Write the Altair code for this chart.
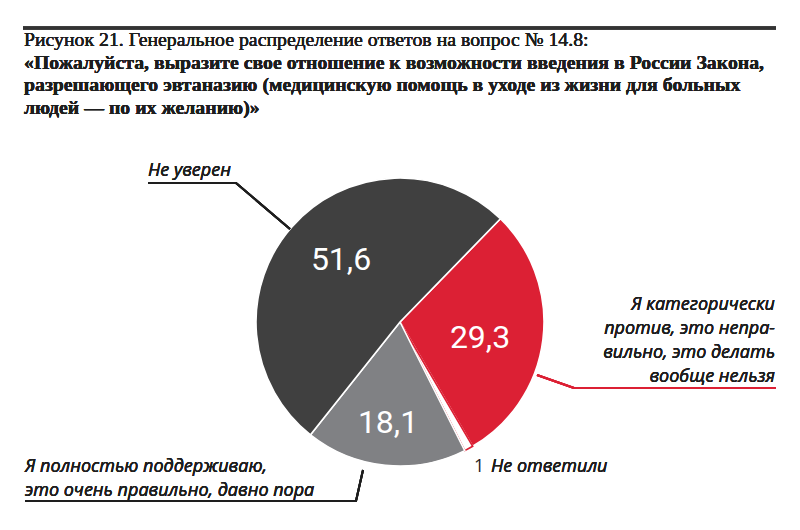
import math
import altair as alt
import pandas as pd

# ---- data ----
keys = ["against", "no_answer", "support", "unsure"]
values = [29.3, 1.0, 18.1, 51.6]
title_lines = [
    "Рисунок 21. Генеральное распределение ответов на вопрос № 14.8:",
    "«Пожалуйста, выразите свое отношение к возможности введения в России Закона,",
    "разрешающего эвтаназию (медицинскую помощь в уходе из жизни для больных",
    "людей — по их желанию)»",
]
label_unsure = "Не уверен"
label_against = ["Я категорически", "против, это непра-", "вильно, это делать", "вообще нельзя"]
label_support = ["Я полностью поддерживаю,", "это очень правильно, давно пора"]
label_noanswer = "Не ответили"

# ---- styles ----
fill_colors = ["#dc2034", "#ffffff", "#808184", "#404040"]
stroke_colors = ["#ffffff", "#dc2034", "#ffffff", "#ffffff"]
RED = "#dc2034"
INK = "#1e1e1e"

df = pd.DataFrame({"cat": keys, "value": values, "order": list(range(len(keys)))})


def X(px):
    return px - 8


def Y(py):
    return py - 8


CX, CY, R = 400, 322, 144
start = math.radians(44.2)

layers = []

# top rule
layers.append(
    alt.Chart(df).mark_rule(color="#333333", strokeWidth=3).encode(
        x=alt.value(X(23)), x2=alt.value(X(776)), y=alt.value(Y(28)), y2=alt.value(Y(28))
    )
)

# title lines
for i, line in enumerate(title_lines):
    layers.append(
        alt.Chart(df).mark_text(
            text=line, align="left", baseline="alphabetic",
            font="Liberation Serif", fontSize=19.8,
            fontWeight="normal" if i == 0 else "bold", color=INK,
        ).encode(x=alt.value(X(24)), y=alt.value(Y(46 + 22.5 * i)))
    )

# pie
layers.append(
    alt.Chart(df).mark_arc(outerRadius=R, strokeWidth=1.6).encode(
        theta=alt.Theta("value:Q", stack=True,
                        scale=alt.Scale(range=[start, start + 2 * math.pi])),
        order=alt.Order("order:Q"),
        color=alt.Color("cat:N", scale=alt.Scale(domain=keys, range=fill_colors), legend=None),
        stroke=alt.Stroke("cat:N", scale=alt.Scale(domain=keys, range=stroke_colors), legend=None),
        x=alt.value(X(CX)), y=alt.value(Y(CY)),
    )
)

# value labels inside
value_pos = {"unsure": (341, 260), "against": (480, 338), "support": (388, 423)}
for k, (px, py) in value_pos.items():
    layers.append(
        alt.Chart(df).transform_filter(alt.datum.cat == k).transform_calculate(
            lbl="replace(format(datum.value, '.1f'), '.', ',')"
        ).mark_text(
            align="center", baseline="middle", font="Liberation Sans Narrow, Roboto",
            fontSize=32, color="white",
        ).encode(text="lbl:N", x=alt.value(X(px)), y=alt.value(Y(py)))
    )

LBL = dict(font="Open Sans", fontSize=18, fontStyle="italic", color=INK)

# "1 Не ответили"
layers.append(
    alt.Chart(df).transform_filter(alt.datum.cat == "no_answer").transform_calculate(
        lbl="format(datum.value, 'd')"
    ).mark_text(
        align="left", baseline="middle", font="Open Sans", fontSize=18, color=INK,
    ).encode(text="lbl:N", x=alt.value(X(474)), y=alt.value(Y(467)))
)

layers.append(
    alt.Chart(df).mark_text(text=label_noanswer, align="left", baseline="middle", **LBL)
    .encode(x=alt.value(X(491)), y=alt.value(Y(467)))
)

# Не уверен
layers.append(
    alt.Chart(df).mark_text(text=label_unsure, align="left", baseline="middle", **LBL)
    .encode(x=alt.value(X(148)), y=alt.value(Y(171)))
)
layers.append(
    alt.Chart(df).mark_rule(color=INK, strokeWidth=2).encode(
        x=alt.value(X(148)), x2=alt.value(X(237)), y=alt.value(Y(183)), y2=alt.value(Y(183))
    )
)
layers.append(
    alt.Chart(df).mark_rule(color=INK, strokeWidth=2).encode(
        x=alt.value(X(236)), x2=alt.value(X(290)), y=alt.value(Y(183)), y2=alt.value(Y(229))
    )
)

# against
for i, line in enumerate(label_against):
    layers.append(
        alt.Chart(df).mark_text(text=line, align="right", baseline="middle", **LBL)
        .encode(x=alt.value(X(775)), y=alt.value(Y(305 + 24 * i)))
    )
layers.append(
    alt.Chart(df).mark_rule(color=RED, strokeWidth=2).encode(
        x=alt.value(X(573)), x2=alt.value(X(776)), y=alt.value(Y(388)), y2=alt.value(Y(388))
    )
)
layers.append(
    alt.Chart(df).mark_rule(color=RED, strokeWidth=2).encode(
        x=alt.value(X(537)), x2=alt.value(X(574)), y=alt.value(Y(375)), y2=alt.value(Y(388))
    )
)

# support
for i, line in enumerate(label_support):
    layers.append(
        alt.Chart(df).mark_text(text=line, align="left", baseline="middle", **LBL)
        .encode(x=alt.value(X(25)), y=alt.value(Y(467 + 24 * i)))
    )
layers.append(
    alt.Chart(df).mark_rule(color=INK, strokeWidth=2).encode(
        x=alt.value(X(25)), x2=alt.value(X(357)), y=alt.value(Y(501)), y2=alt.value(Y(501))
    )
)
layers.append(
    alt.Chart(df).mark_rule(color=INK, strokeWidth=2).encode(
        x=alt.value(X(356)), x2=alt.value(X(363)), y=alt.value(Y(501)), y2=alt.value(Y(470))
    )
)

chart = alt.layer(*layers).properties(
    width=784, height=514, padding=0, autosize=alt.AutoSizeParams(type="none"),
    background="white",
).configure_view(stroke=None)

chart.save("out.html", embed_options={"renderer": "svg", "actions": False})
